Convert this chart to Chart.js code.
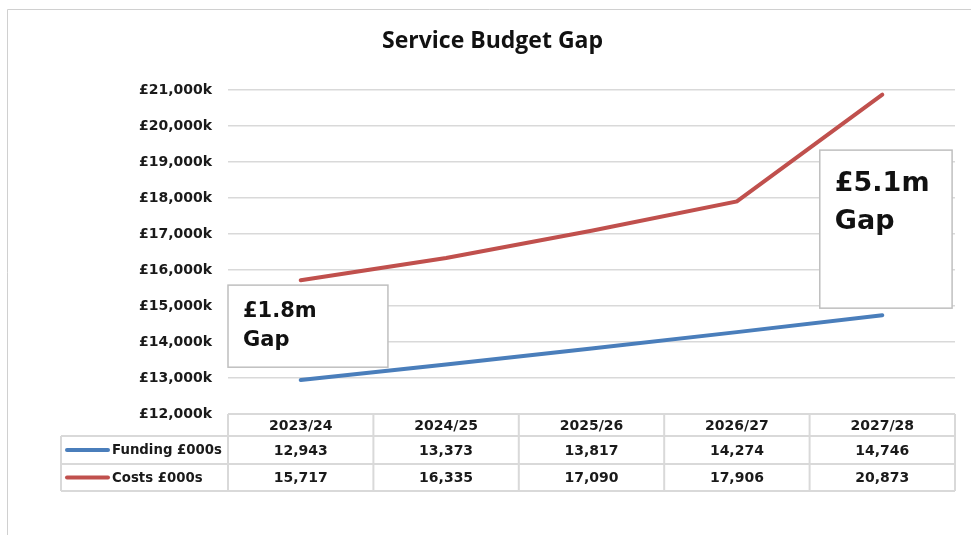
<!DOCTYPE html>
<html>
<head>
<meta charset="utf-8">
<script src="https://cdn.jsdelivr.net/npm/chart.js@4.4.1/dist/chart.umd.min.js"></script>
<style>
  html, body { margin: 0; padding: 0; background: #fff; }
  #wrap { width: 971px; height: 535px; }
</style>
</head>
<body>
<div id="wrap"><canvas id="chart"></canvas></div>
<script>
const years = ['2023/24', '2024/25', '2025/26', '2026/27', '2027/28'];
const funding = [12943, 13373, 13817, 14274, 14746];
const costs = [15717, 16335, 17090, 17906, 20873];
const seriesNames = ['Funding £000s', 'Costs £000s'];
const yMin = 12000;
const yMax = 21000;

// gap call-outs, placed in data units (x = category index, y = £000s)
const gapNotes = [
  { lines: ['£1.8m', 'Gap'], x0: -0.5, x1: 0.6, y0: 15580, y1: 13300, size: 21 },
  { lines: ['£5.1m', 'Gap'], x0: 3.57, x1: 4.48, y0: 19330, y1: 14940, size: 27 }
];

const BLUE = '#4a7ebb';
const RED = '#c0504d';
const GRID = '#d9d9d9';
const FONT = '"DejaVu Sans", Verdana, sans-serif';

const fmt = n => n.toLocaleString('en-GB');

const framePlugin = {
  id: 'frame',
  beforeDraw(chart) {
    const ctx = chart.ctx;
    ctx.save();
    ctx.fillStyle = '#fff';
    ctx.fillRect(0, 0, chart.width, chart.height);
    ctx.strokeStyle = '#d0d0d0';
    ctx.lineWidth = 1;
    ctx.beginPath();
    ctx.moveTo(7.5, chart.height);
    ctx.lineTo(7.5, 9.5);
    ctx.lineTo(chart.width, 9.5);
    ctx.stroke();
    ctx.restore();
  }
};

const tablePlugin = {
  id: 'dataTable',
  afterDraw(chart) {
    const ctx = chart.ctx;
    const x = chart.scales.x;
    const area = chart.chartArea;
    const step = x.getPixelForValue(1) - x.getPixelForValue(0);
    const legendLeft = 61;
    const rows = [area.bottom, area.bottom + 22, area.bottom + 50, area.bottom + 77];
    const cols = years.map((_, i) => x.getPixelForValue(i) - step / 2);
    cols.push(x.getPixelForValue(years.length - 1) + step / 2);

    ctx.save();
    ctx.strokeStyle = GRID;
    ctx.lineWidth = 2;
    ctx.beginPath();
    // horizontal rules
    ctx.moveTo(cols[0], rows[0]); ctx.lineTo(cols[cols.length - 1], rows[0]);
    for (let r = 1; r < rows.length; r++) {
      ctx.moveTo(legendLeft, rows[r]); ctx.lineTo(cols[cols.length - 1], rows[r]);
    }
    // vertical rules
    cols.forEach(c => { ctx.moveTo(c, rows[0]); ctx.lineTo(c, rows[3]); });
    ctx.moveTo(legendLeft, rows[1]); ctx.lineTo(legendLeft, rows[3]);
    ctx.stroke();

    ctx.fillStyle = '#1a1a1a';
    ctx.textAlign = 'center';
    ctx.textBaseline = 'middle';
    ctx.font = 'bold 14px ' + FONT;
    years.forEach((y, i) => ctx.fillText(y, x.getPixelForValue(i), (rows[0] + rows[1]) / 2 + 1));

    [funding, costs].forEach((vals, r) => {
      const cy = (rows[r + 1] + rows[r + 2]) / 2 + 1;
      vals.forEach((v, i) => ctx.fillText(fmt(v), x.getPixelForValue(i), cy));
      // legend key
      ctx.strokeStyle = chart.data.datasets[r].borderColor;
      ctx.lineWidth = 4;
      ctx.lineCap = 'round';
      ctx.beginPath();
      ctx.moveTo(67, cy - 1); ctx.lineTo(108, cy - 1);
      ctx.stroke();
      ctx.textAlign = 'left';
      ctx.font = 'bold 13.3px ' + FONT;
      ctx.fillText(seriesNames[r], 112, cy);
      ctx.textAlign = 'center';
      ctx.font = 'bold 14px ' + FONT;
    });
    ctx.restore();
  }
};

const notesPlugin = {
  id: 'gapNotes',
  afterDatasetsDraw(chart) {
    const ctx = chart.ctx;
    const x = chart.scales.x;
    const y = chart.scales.y;
    ctx.save();
    gapNotes.forEach(n => {
      const left = x.getPixelForValue(n.x0);
      const right = x.getPixelForValue(n.x1);
      const top = y.getPixelForValue(n.y0);
      const bottom = y.getPixelForValue(n.y1);
      ctx.fillStyle = '#fff';
      ctx.fillRect(left, top, right - left, bottom - top);
      ctx.strokeStyle = '#bfbfbf';
      ctx.lineWidth = 1.5;
      ctx.strokeRect(left, top, right - left, bottom - top);
      ctx.fillStyle = '#111';
      ctx.font = 'bold ' + n.size + 'px ' + FONT;
      ctx.textAlign = 'left';
      ctx.textBaseline = 'alphabetic';
      n.lines.forEach((t, i) => {
        ctx.fillText(t, left + 15, top + n.size * 1.5 + i * n.size * 1.42);
      });
    });
    ctx.restore();
  }
};

new Chart(document.getElementById('chart'), {
  type: 'line',
  data: {
    labels: years,
    datasets: [
      { label: seriesNames[0], data: funding, borderColor: BLUE, backgroundColor: BLUE },
      { label: seriesNames[1], data: costs, borderColor: RED, backgroundColor: RED }
    ]
  },
  options: {
    responsive: true,
    maintainAspectRatio: false,
    animation: false,
    elements: {
      line: { borderWidth: 4, tension: 0, borderCapStyle: 'round' },
      point: { radius: 0, hoverRadius: 0 }
    },
    layout: { padding: { left: 30, right: 16, top: 0, bottom: 121 } },
    plugins: {
      legend: { display: false },
      tooltip: { enabled: false },
      title: {
        display: true,
        text: 'Service Budget Gap',
        color: '#111',
        font: { family: '"Open Sans", Lato, sans-serif', size: 23, weight: 'bold' },
        padding: { top: 28, bottom: 34.4 }
      }
    },
    scales: {
      x: {
        type: 'category',
        offset: true,
        display: false
      },
      y: {
        min: yMin,
        max: yMax,
        afterFit(scale) { scale.width = 198; },
        border: { display: false },
        grid: { color: GRID, lineWidth: 1.5, drawTicks: false },
        ticks: {
          stepSize: 1000,
          padding: 16,
          color: '#1a1a1a',
          font: { family: FONT, size: 14, weight: 'bold' },
          callback: v => '£' + fmt(v) + 'k'
        }
      }
    }
  },
  plugins: [framePlugin, tablePlugin, notesPlugin]
});
</script>
</body>
</html>
